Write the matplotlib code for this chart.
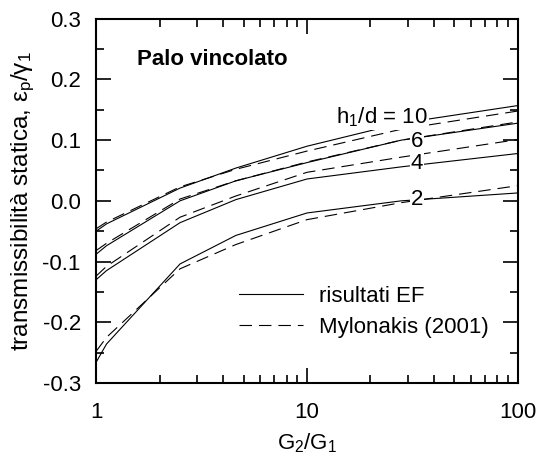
import matplotlib
matplotlib.use('Agg')
import matplotlib.pyplot as plt

plt.rcParams['font.family'] = ['Liberation Sans', 'DejaVu Sans']
plt.rcParams['mathtext.fontset'] = 'custom'
plt.rcParams['mathtext.rm'] = 'Liberation Sans'
plt.rcParams['mathtext.it'] = 'Liberation Sans'
plt.rcParams['lines.scale_dashes'] = False

# G2/G1 values
g_ratio = [1, 1.12, 2.5, 4.6, 10, 28, 100]

# h1/d values and curves: FE results (solid) and Mylonakis 2001 (dashed)
h_labels = ['10', '6', '4', '2']
fe_h10 = [-0.050, -0.038, 0.021, 0.054, 0.090, 0.128, 0.157]
fe_h6 = [-0.088, -0.074, 0.000, 0.033, 0.063, 0.100, 0.128]
fe_h4 = [-0.130, -0.115, -0.036, 0.002, 0.036, 0.056, 0.078]
fe_h2 = [-0.266, -0.236, -0.104, -0.057, -0.020, 0.000, 0.013]
myl_h10 = [-0.046, -0.035, 0.023, 0.052, 0.082, 0.118, 0.148]
myl_h6 = [-0.082, -0.070, 0.003, 0.033, 0.064, 0.100, 0.130]
myl_h4 = [-0.124, -0.108, -0.027, 0.008, 0.047, 0.072, 0.101]
myl_h2 = [-0.248, -0.225, -0.112, -0.072, -0.031, -0.003, 0.025]

fig = plt.figure(figsize=(5.4, 4.58), dpi=100)
ax = fig.add_axes([0.178, 0.164, 0.781, 0.795])

for ys in (fe_h10, fe_h6, fe_h4, fe_h2):
    l1, = ax.plot(g_ratio, ys, color='black', lw=0.8)
for ys in (myl_h10, myl_h6, myl_h4, myl_h2):
    l2, = ax.plot(g_ratio, ys, color='black', lw=0.8, dashes=(9, 5))

ax.set_xscale('log')
ax.set_xlim(1, 100)
ax.set_ylim(-0.3, 0.3)
ax.set_yticks([-0.3, -0.2, -0.1, 0.0, 0.1, 0.2, 0.3])
ax.set_yticks([-0.25, -0.15, -0.05, 0.05, 0.15, 0.25], minor=True)
ax.set_yticklabels(['-0.3', '-0.2', '-0.1', '0.0', '0.1', '0.2', '0.3'])
ax.set_xticks([1, 10, 100])
ax.set_xticklabels(['1', '10', '100'])

for s in ax.spines.values():
    s.set_linewidth(1.5)
ax.tick_params(which='both', direction='in', top=True, right=True, width=1.2)
ax.tick_params(which='major', length=11, labelsize=16)
ax.tick_params(axis='y', which='major', pad=11)
ax.tick_params(axis='x', which='major', pad=14)
ax.tick_params(which='minor', length=5.5)

ax.set_xlabel('G$_2$/G$_1$', fontsize=16, labelpad=6)
ax.set_ylabel(r'transmissibilità statica, $\epsilon_p/\gamma_1$', fontsize=17.5, labelpad=4)

ax.text(0.097, 0.887, 'Palo vincolato', transform=ax.transAxes, fontsize=16,
        fontweight='bold', va='center')

# curve labels, sitting on the lines
bb = dict(facecolor='white', edgecolor='none', pad=0.5)
ax.text(37.5, 0.137, 'h$_1$/d = 10', fontsize=16, ha='right', va='center', bbox=bb)
ax.text(35.5, 0.098, '6', fontsize=16, ha='right', va='center', bbox=bb)
ax.text(35.5, 0.062, '4', fontsize=16, ha='right', va='center', bbox=bb)
ax.text(35.5, 0.002, '2', fontsize=16, ha='right', va='center', bbox=bb)

ax.legend([l1, l2], ['risultati EF', 'Mylonakis (2001)'], frameon=False,
          fontsize=16, loc='lower right', bbox_to_anchor=(0.978, 0.068),
          handlelength=2.9, handletextpad=0.7, labelspacing=0.45)

fig.savefig('out.png', dpi=100)
